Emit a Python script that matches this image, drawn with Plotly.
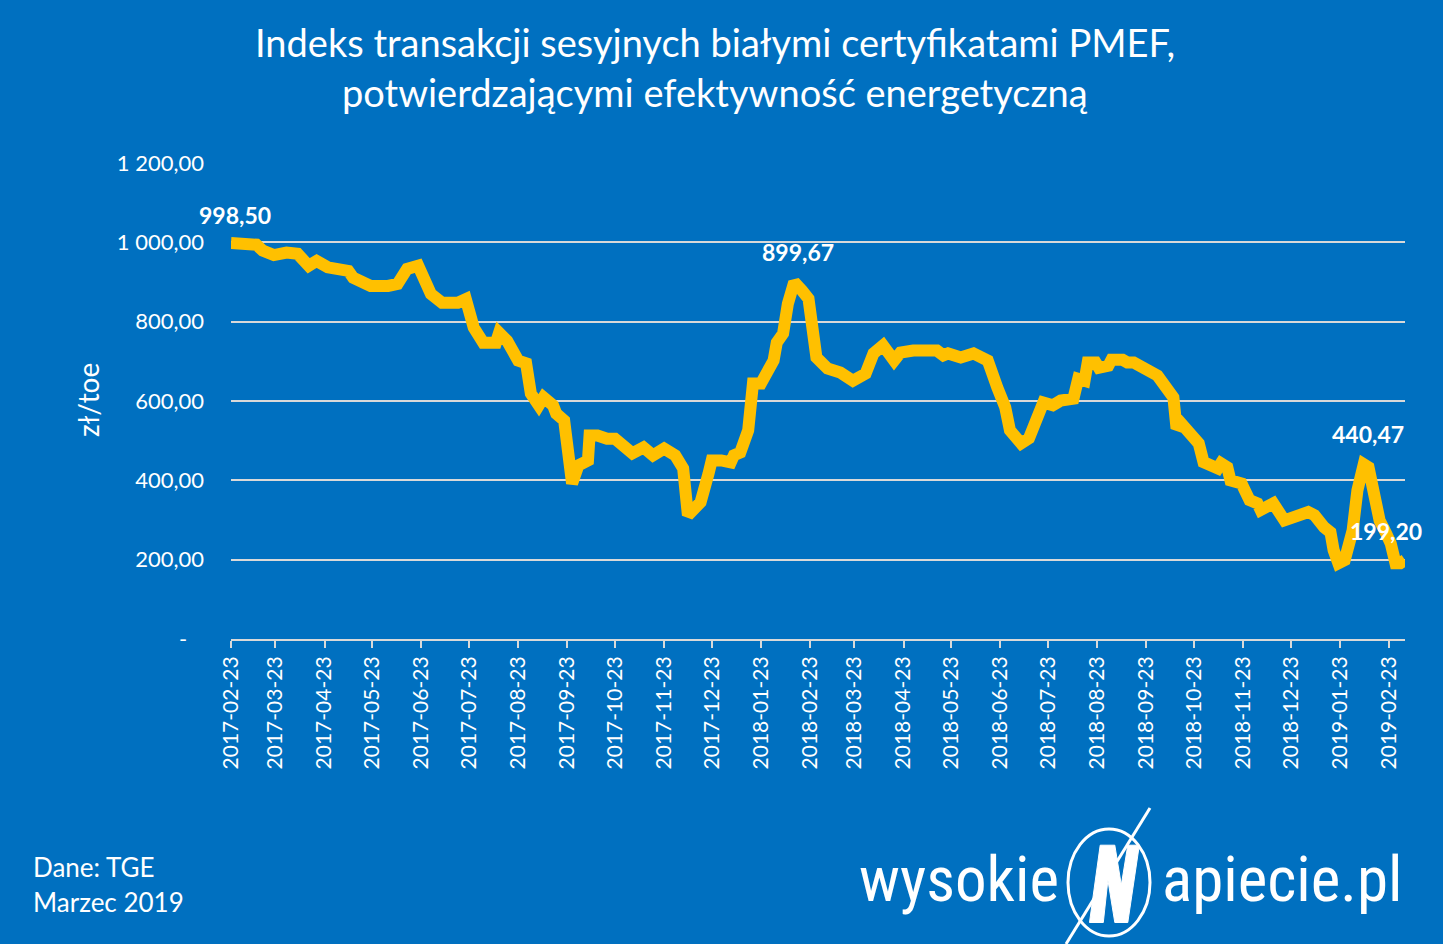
import plotly.graph_objects as go

# ---------------- data ----------------
dates = [
    "2017-02-23", "2017-03-01", "2017-03-11", "2017-03-15", "2017-03-22", "2017-03-30",
    "2017-04-06", "2017-04-13", "2017-04-18", "2017-04-25", "2017-05-01", "2017-05-08",
    "2017-05-11", "2017-05-22", "2017-06-02", "2017-06-08", "2017-06-14", "2017-06-21",
    "2017-06-29", "2017-07-06", "2017-07-16", "2017-07-21", "2017-07-26", "2017-08-01",
    "2017-08-09", "2017-08-11", "2017-08-16", "2017-08-23", "2017-08-28", "2017-08-31",
    "2017-09-05", "2017-09-08", "2017-09-14", "2017-09-16", "2017-09-21", "2017-09-23",
    "2017-09-26", "2017-09-30", "2017-10-06", "2017-10-07", "2017-10-12", "2017-10-18",
    "2017-10-23", "2017-11-03", "2017-11-10", "2017-11-16", "2017-11-23", "2017-11-30",
    "2017-12-05", "2017-12-08", "2017-12-16", "2017-12-21", "2017-12-23", "2017-12-29",
    "2018-01-04", "2018-01-06", "2018-01-10", "2018-01-15", "2018-01-18", "2018-01-23",
    "2018-01-27", "2018-01-31", "2018-02-02", "2018-02-06", "2018-02-09", "2018-02-13",
    "2018-02-18", "2018-02-22", "2018-02-27", "2018-03-06", "2018-03-14", "2018-03-22",
    "2018-03-30", "2018-04-04", "2018-04-10", "2018-04-17", "2018-04-21", "2018-04-29",
    "2018-05-14", "2018-05-18", "2018-05-21", "2018-05-29", "2018-06-06", "2018-06-15",
    "2018-06-21", "2018-06-26", "2018-06-29", "2018-07-01", "2018-07-06", "2018-07-11",
    "2018-07-17", "2018-07-20", "2018-07-26", "2018-07-31", "2018-08-08", "2018-08-11",
    "2018-08-15", "2018-08-17", "2018-08-22", "2018-08-24", "2018-08-30", "2018-09-01",
    "2018-09-08", "2018-09-11", "2018-09-15", "2018-09-24", "2018-09-30", "2018-10-10",
    "2018-10-12", "2018-10-15", "2018-10-19", "2018-10-26", "2018-10-29", "2018-11-07",
    "2018-11-09", "2018-11-13", "2018-11-15", "2018-11-22", "2018-11-24", "2018-11-27",
    "2018-12-02", "2018-12-04", "2018-12-12", "2018-12-19", "2019-01-03", "2019-01-07",
    "2019-01-13", "2019-01-17", "2019-01-19", "2019-01-22", "2019-01-26", "2019-01-31",
    "2019-02-03", "2019-02-07", "2019-02-10", "2019-02-14", "2019-02-17", "2019-02-21",
    "2019-02-24", "2019-02-27", "2019-03-02", "2019-03-05",
]
index_values = [
    998.50, 997, 994, 979, 968, 974,
    971, 941, 953, 937, 936, 928,
    911, 890, 890, 895, 933, 941,
    870, 848, 848, 857, 785, 747,
    747, 772, 752, 702, 695, 619,
    589, 609, 589, 568, 551, 483,
    392, 438, 450, 513, 513, 505,
    505, 468, 483, 463, 480, 463,
    430, 312, 345, 417, 450, 450,
    445, 463, 470, 526, 644, 644,
    677, 702, 747, 770, 845, 899.67,
    878, 858, 710, 682, 672, 651,
    669, 720, 740, 702, 722, 727,
    727, 715, 720, 710, 720, 702,
    634, 584, 526, 513, 493, 506,
    558, 596, 589, 601, 606, 656,
    651, 697, 697, 684, 689, 704,
    704, 697, 697, 682, 664, 609,
    531, 543, 521, 493, 446, 430,
    443, 433, 400, 392, 375, 350,
    342, 325, 342, 299, 320, 312,
    282, 269, 224, 191, 199, 274,
    375, 440.47, 433, 357, 299, 267,
    241, 191, 191, 199.20,
]

tick_labels = [
    "2017-02-23", "2017-03-23", "2017-04-23", "2017-05-23", "2017-06-23", "2017-07-23",
    "2017-08-23", "2017-09-23", "2017-10-23", "2017-11-23", "2017-12-23", "2018-01-23",
    "2018-02-23", "2018-03-23", "2018-04-23", "2018-05-23", "2018-06-23", "2018-07-23",
    "2018-08-23", "2018-09-23", "2018-10-23", "2018-11-23", "2018-12-23", "2019-01-23",
    "2019-02-23",
]
y_tick_values = [0, 200, 400, 600, 800, 1000, 1200]
y_tick_labels = ["-\u00a0\u00a0\u00a0", "200,00", "400,00", "600,00", "800,00", "1\u00a0000,00", "1\u00a0200,00"]

title_lines = ["Indeks transakcji sesyjnych białymi certyfikatami PMEF,",
               "potwierdzającymi efektywność energetyczną"]
y_title = "zł/toe"
source_lines = ["Dane: TGE", "Marzec 2019"]

# ---------------- layout geometry ----------------
W, H = 1443, 944
L, R, T, B = 231, 38, 163, 305
BG = "#0070C0"
LINE = "#FFC000"
GRID = "#D9D9D9"
FONT = "Lato, 'Open Sans', sans-serif"


def px_x(px):
    return (px - L) / (W - L - R)


def px_y(py):
    return (H - B - py) / (H - T - B)


def fmt(v):
    return f"{v:.2f}".replace(".", ",")


fig = go.Figure()
fig.add_trace(go.Scatter(
    x=dates, y=index_values, mode="lines",
    line=dict(color=LINE, width=12),
    hoverinfo="skip", showlegend=False,
))

# data labels: first point, 2018 peak, 2019 peak, last point
n = len(index_values)
i_first = 0
i_2018 = max((i for i in range(n) if dates[i].startswith("2018")), key=lambda i: index_values[i])
i_2019 = max((i for i in range(n) if dates[i].startswith("2019")), key=lambda i: index_values[i])
i_last = n - 1
annotations = []
for i, xs, ys in [(i_first, 4, 28), (i_2018, 4, 30), (i_2019, 4, 30), (i_last, -19, 29)]:
    annotations.append(dict(
        x=dates[i], y=index_values[i], xref="x", yref="y", text=fmt(index_values[i]),
        showarrow=False, xshift=xs, yshift=ys,
        font=dict(family=FONT, size=23, color="white", weight="bold"),
    ))

# title
for k, t in enumerate(title_lines):
    annotations.append(dict(
        x=px_x(715), y=px_y(42 + 50 * k), xref="paper", yref="paper", text=t,
        showarrow=False, xanchor="center", yanchor="middle",
        font=dict(family=FONT, size=38, color="white"),
    ))

# y axis title
annotations.append(dict(
    x=px_x(88), y=px_y(400), xref="paper", yref="paper", text=y_title, textangle=-90,
    showarrow=False, xanchor="center", yanchor="middle",
    font=dict(family=FONT, size=28, color="white"),
))

# source lines
for k, t in enumerate(source_lines):
    annotations.append(dict(
        x=px_x(31), y=px_y(867 + 35 * k), xref="paper", yref="paper", text=t,
        showarrow=False, xanchor="left", yanchor="middle",
        font=dict(family=FONT, size=26, color="white"),
    ))

# logo text
LOGO_FONT = "'Liberation Sans Narrow', 'Roboto Condensed', Roboto, sans-serif"
annotations.append(dict(
    x=px_x(1061), y=px_y(879), xref="paper", yref="paper", text="wysokie",
    showarrow=False, xanchor="right", yanchor="middle",
    font=dict(family=LOGO_FONT, size=63, color="white"),
))
annotations.append(dict(
    x=px_x(1160), y=px_y(879), xref="paper", yref="paper", text="apiecie.pl",
    showarrow=False, xanchor="left", yanchor="middle",
    font=dict(family=LOGO_FONT, size=63, color="white"),
))

# logo shapes
shapes = []
shapes.append(dict(type="line", xref="paper", yref="paper",
                   x0=px_x(1150), y0=px_y(808), x1=px_x(1066), y1=px_y(944),
                   line=dict(color="white", width=3)))
shapes.append(dict(type="circle", xref="paper", yref="paper",
                   x0=px_x(1068), x1=px_x(1150), y0=px_y(936), y1=px_y(829),
                   line=dict(color="white", width=3)))
n_pts = [(1089.5, 922.5), (1100.2, 845.2), (1114.8, 845.2), (1121.3, 885),
         (1127.8, 845.2), (1139.3, 845.2), (1127.8, 922.5), (1114.8, 922.5),
         (1107.9, 880), (1103.3, 922.5)]
path = "M " + " L ".join(f"{px_x(a):.5f},{px_y(b):.5f}" for a, b in n_pts) + " Z"
shapes.append(dict(type="path", xref="paper", yref="paper", path=path,
                   fillcolor="white", line=dict(color="white", width=1)))

fig.update_layout(
    width=W, height=H, autosize=False,
    margin=dict(l=L, r=R, t=T, b=B, pad=0),
    paper_bgcolor=BG, plot_bgcolor=BG,
    font=dict(family=FONT, color="white"),
    showlegend=False,
    annotations=annotations,
    shapes=shapes,
    xaxis=dict(
        type="date", range=[dates[0], dates[-1]],
        tickmode="array", tickvals=tick_labels, ticktext=tick_labels,
        tickangle=-90, tickfont=dict(family=FONT, size=21, color="white"),
        showgrid=False, zeroline=False,
        showline=True, linecolor=GRID, linewidth=2,
        ticks="outside", ticklen=7, tickwidth=2, tickcolor=GRID,
    ),
    yaxis=dict(
        range=[0, 1200], tickmode="array", tickvals=y_tick_values, ticktext=y_tick_labels,
        tickfont=dict(family=FONT, size=22, color="white"),
        showgrid=True, gridcolor=GRID, gridwidth=1.5,
        zeroline=False, showline=False, ticks="", ticklabelstandoff=26,
    ),
)

fig.write_html("out.html")
